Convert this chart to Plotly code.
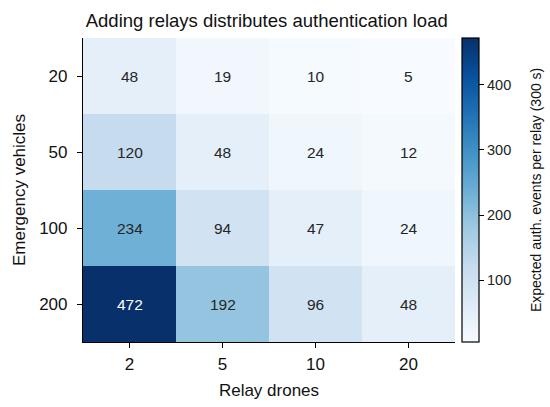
import plotly.graph_objects as go

# relay drones (columns) and emergency vehicles (rows)
relays = ["2", "5", "10", "20"]
vehicles = ["20", "50", "100", "200"]

# expected auth. events per relay over 300 s
events = [
    [48, 19, 10, 5],
    [120, 48, 24, 12],
    [234, 94, 47, 24],
    [472, 192, 96, 48],
]

cb_ticks = [100, 200, 300, 400]
cb_title = "Expected auth. events per relay (300 s)"

FONT = "Liberation Sans, Arial, sans-serif"


def main():
    zmin = min(min(r) for r in events)
    zmax = max(max(r) for r in events)
    xi = list(range(len(relays)))
    yi = list(range(len(vehicles)))

    fig = go.Figure(go.Heatmap(
        z=events, x=xi, y=yi,
        colorscale="Blues", zmin=zmin, zmax=zmax,
        colorbar=dict(
            x=1.02, xanchor="left", y=0.5, yanchor="middle",
            len=1, lenmode="fraction", thickness=17,
            xpad=0, ypad=0,
            outlinewidth=1.2, outlinecolor="black",
            tickvals=cb_ticks, ticks="outside", ticklen=5, tickcolor="black",
            tickprefix="\u00a0\u00a0",
            tickfont=dict(size=14.5, color="#222"),
        ),
        hovertemplate="%{z}<extra></extra>",
    ))

    # cell labels, white on the darkest cells
    for i in yi:
        for j in xi:
            val = events[i][j]
            fig.add_annotation(
                x=j, y=i, text=str(val), showarrow=False,
                font=dict(size=15.5, family=FONT,
                          color="white" if val > 0.6 * zmax else "#262626"))

    # colorbar label placed by hand, further out than plotly's own title
    fig.add_annotation(
        xref="paper", yref="paper", x=1.218, y=0.5, text=cb_title,
        textangle=-90, showarrow=False, xanchor="center", yanchor="middle",
        font=dict(size=14, family=FONT, color="#111"))

    fig.update_layout(
        width=550, height=407,
        margin=dict(l=83, r=95, t=38, b=65),
        paper_bgcolor="white", plot_bgcolor="white",
        font=dict(family=FONT, color="#111"),
        title=dict(text="Adding relays distributes authentication load",
                   x=0.485, xanchor="center", y=0.95, yanchor="middle",
                   font=dict(size=18.5, color="#111")),
    )
    fig.update_xaxes(
        tickvals=xi, ticktext=relays, range=[-0.5, len(relays) - 0.5],
        title=dict(text="Relay drones", font=dict(size=17), standoff=11),
        showline=True, linecolor="black", linewidth=1.2,
        ticks="outside", ticklen=5, tickcolor="black", ticklabelstandoff=1,
        tickfont=dict(size=17, color="#111"), showgrid=False, zeroline=False)
    fig.update_yaxes(
        tickvals=yi, ticktext=vehicles, range=[len(vehicles) - 0.5, -0.5],
        title=dict(text="Emergency vehicles", font=dict(size=17), standoff=9),
        showline=True, linecolor="black", linewidth=1.2,
        ticks="outside", ticklen=5, tickcolor="black", ticklabelstandoff=6,
        tickfont=dict(size=17, color="#111"), showgrid=False, zeroline=False)

    # drop the browser's default 8px body margin so the figure sits at 0,0
    fig.write_html("out.html", config={"displayModeBar": False},
                   post_script="document.body.style.margin='0';")


if __name__ == "__main__":
    main()
